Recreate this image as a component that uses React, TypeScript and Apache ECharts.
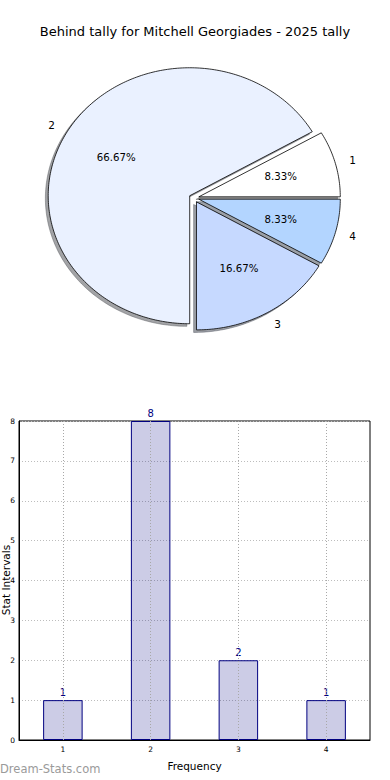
import React, { useEffect, useRef } from "react";
import * as echarts from "echarts";

// ---- data ----
const categories = ["1", "2", "3", "4"];
const counts = [1, 8, 2, 1];
const sliceColors = ["#ffffff", "#eaf1ff", "#c6d9ff", "#b3d5ff"];
const titleText = "Behind tally for Mitchell Georgiades - 2025 tally";
const xAxisName = "Frequency";
const yAxisName = "Stat Intervals";
const watermark = "Dream-Stats.com";
const yMin = 0;
const yMax = 8;
const yStep = 1;

// ---- layout ----
const FONT = "DejaVu Sans";
const PIE = {
  cx: 194,
  cy: 198,
  rx: 141.5,
  ry: 128,
  explode: 0.035,
  shadow: 0.02,
  labelDist: 1.1,
  pctDist: 0.6,
};

const total = counts.reduce((a, b) => a + b, 0);

function wedge(i: number) {
  const before = counts.slice(0, i).reduce((a, b) => a + b, 0);
  const start = (before / total) * 360;
  const end = start + (counts[i] / total) * 360;
  const mid = (((start + end) / 2) * Math.PI) / 180;
  const ox = PIE.cx + PIE.explode * PIE.rx * Math.cos(mid);
  const oy = PIE.cy - PIE.explode * PIE.ry * Math.sin(mid);
  const pts: number[][] = [[ox, oy]];
  const steps = Math.max(2, Math.ceil(end - start));
  for (let k = 0; k <= steps; k++) {
    const a = ((start + ((end - start) * k) / steps) * Math.PI) / 180;
    pts.push([ox + PIE.rx * Math.cos(a), oy - PIE.ry * Math.sin(a)]);
  }
  return { ox, oy, mid, pts };
}

function darker(hex: string) {
  const n = parseInt(hex.slice(1), 16);
  const r = Math.round(((n >> 16) & 255) * 0.3);
  const g = Math.round(((n >> 8) & 255) * 0.3);
  const b = Math.round((n & 255) * 0.3);
  return `rgba(${r},${g},${b},0.5)`;
}

export default function App() {
  const ref = useRef<HTMLDivElement>(null);
  useEffect(() => {
    if (!ref.current) return;
    const chart = echarts.init(ref.current, null, { renderer: "svg" });
    const option: any = {
      animation: false,
      backgroundColor: "#ffffff",
      textStyle: { fontFamily: FONT },
      title: {
        text: titleText,
        left: "center",
        top: 20,
        textStyle: { fontSize: 13, fontWeight: "normal", color: "#000", fontFamily: FONT },
      },
      graphic: [
        {
          type: "text",
          left: 0,
          top: 763,
          style: { text: watermark, fill: "#9a9a9a", fontSize: 11.5, fontFamily: FONT },
        },
        {
          type: "text",
          x: 5.5,
          y: 580,
          rotation: Math.PI / 2,
          style: {
            text: yAxisName,
            fill: "#000",
            fontSize: 10.5,
            fontFamily: FONT,
            align: "center",
            textAlign: "center",
            verticalAlign: "middle",
            textVerticalAlign: "middle",
          },
        },
      ],
      grid: {
        left: 19,
        right: 20,
        top: 421,
        bottom: 40,
        containLabel: false,
        outerBoundsMode: "none",
        show: true,
        borderColor: "#000",
        borderWidth: 1,
        backgroundColor: "transparent",
      },
      xAxis: {
        type: "category",
        data: categories,
        boundaryGap: true,
        axisLine: { show: true, lineStyle: { color: "#000", width: 1 } },
        axisTick: { show: false },
        axisLabel: { fontSize: 7.5, color: "#000", margin: 5, fontFamily: FONT },
        splitLine: { show: false },
        name: xAxisName,
        nameLocation: "middle",
        nameGap: 20,
        nameTextStyle: { fontSize: 10.5, color: "#000", fontFamily: FONT },
      },
      yAxis: {
        type: "value",
        min: yMin,
        max: yMax,
        interval: yStep,
        axisLine: { show: true, lineStyle: { color: "#000", width: 1 } },
        axisTick: { show: false },
        axisLabel: { fontSize: 7.5, color: "#000", margin: 4, fontFamily: FONT },
        splitLine: { show: true, lineStyle: { type: [1, 2], color: "#bdbdbd", width: 1 } },
      },
      series: [
        {
          type: "custom",
          coordinateSystem: "none",
          silent: true,
          z: 1,
          data: counts,
          renderItem: (params: any) => {
            const i = params.dataIndex;
            const w = wedge(i);
            const dx = -PIE.shadow * PIE.rx;
            const dy = PIE.shadow * PIE.ry;
            const c = darker(sliceColors[i]);
            return {
              type: "polygon",
              shape: { points: w.pts.map((p) => [p[0] + dx, p[1] + dy]) },
              style: { fill: c, stroke: c, lineWidth: 0.8 },
            };
          },
        },
        {
          type: "custom",
          coordinateSystem: "none",
          silent: true,
          z: 3,
          data: counts,
          renderItem: (params: any) => {
            const i = params.dataIndex;
            const w = wedge(i);
            const cos = Math.cos(w.mid);
            const sin = Math.sin(w.mid);
            const pct = ((counts[i] / total) * 100).toFixed(2) + "%";
            return {
              type: "group",
              children: [
                {
                  type: "polygon",
                  shape: { points: w.pts },
                  style: { fill: sliceColors[i], stroke: "#000", lineWidth: 0.8 },
                },
                {
                  type: "text",
                  x: w.ox + PIE.labelDist * PIE.rx * cos,
                  y: w.oy - PIE.labelDist * PIE.ry * sin,
                  style: {
                    text: categories[i],
                    fill: "#000",
                    fontSize: 10.5,
                    fontFamily: FONT,
                    align: cos > 0 ? "left" : "right",
                    textAlign: cos > 0 ? "left" : "right",
                    verticalAlign: "middle",
                    textVerticalAlign: "middle",
                  },
                },
                {
                  type: "text",
                  x: w.ox + PIE.pctDist * PIE.rx * cos,
                  y: w.oy - PIE.pctDist * PIE.ry * sin,
                  style: {
                    text: pct,
                    fill: "#000",
                    fontSize: 10.2,
                    fontFamily: FONT,
                    align: "center",
                    textAlign: "center",
                    verticalAlign: "middle",
                    textVerticalAlign: "middle",
                  },
                },
              ],
            };
          },
        },
        {
          type: "bar",
          data: counts,
          barWidth: "45%",
          z: 2,
          itemStyle: { color: "rgba(0,0,128,0.2)", borderColor: "#000080", borderWidth: 1 },
          label: {
            show: true,
            position: "top",
            distance: 3,
            color: "#000080",
            fontSize: 10,
            fontFamily: FONT,
          },
          markLine: {
            silent: true,
            symbol: "none",
            label: { show: false },
            lineStyle: { type: [1, 2], color: "#a8a8a8", width: 1 },
            data: categories.map((c) => ({ xAxis: c })),
          },
        },
      ],
    };
    chart.setOption(option);
    return () => chart.dispose();
  }, []);
  return (
    <div
      ref={ref}
      style={{ position: "fixed", left: 0, top: 0, width: 390, height: 780, background: "#fff" }}
    />
  );
}
